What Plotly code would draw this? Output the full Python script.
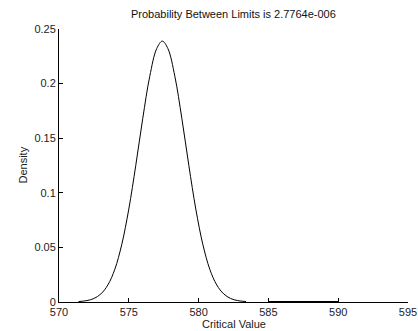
import plotly.graph_objects as go

# Curve points (density vs critical value)
x_vals = [571.4, 572.0, 572.5, 573.0, 573.5, 574.0, 574.5, 575.0, 575.5, 576.0, 576.5, 577.0,
          577.4, 577.8, 578.3, 578.8, 579.3, 579.8, 580.3, 580.8, 581.3, 581.8, 582.3, 582.8, 583.4]
density = [0.0004, 0.0013, 0.0032, 0.0074, 0.0156, 0.0300, 0.0529, 0.0851, 0.1251, 0.1681, 0.2066, 0.2321,
           0.2389, 0.2321, 0.2066, 0.1681, 0.1251, 0.0851, 0.0529, 0.0300, 0.0156, 0.0074, 0.0032, 0.0013, 0.0004]

limits_x = [585, 590]
limits_y = [0.0, 0.0]

x_ticks = [570, 575, 580, 585, 590, 595]
y_ticks = [0, 0.05, 0.1, 0.15, 0.2, 0.25]
y_tick_text = ["0", "0.05", "0.1", "0.15", "0.2", "0.25"]

title_text = "Probability Between Limits is 2.7764e-006"
x_title = "Critical Value"
y_title = "Density"

fig = go.Figure()
fig.add_trace(go.Scatter(x=x_vals, y=density, mode="lines", line=dict(color="black", width=1, shape="spline"),
                         showlegend=False, hoverinfo="skip"))
fig.add_trace(go.Scatter(x=limits_x, y=limits_y, mode="lines", line=dict(color="black", width=2.2),
                         showlegend=False, hoverinfo="skip"))

font = dict(family="Liberation Sans, Arial, sans-serif", size=11, color="#222222")

L, R, T, B = 59, 10, 29, 29
W, H = 418, 331
pw, ph = W - L - R, H - T - B

fig.update_layout(
    width=W, height=H,
    margin=dict(l=L, r=R, t=T, b=B, autoexpand=False),
    paper_bgcolor="white", plot_bgcolor="white",
    font=font,
    xaxis=dict(range=[570, 595], tickvals=x_ticks, ticks="inside", ticklen=4, tickcolor="black",
               showline=True, linecolor="black", linewidth=1, showgrid=False, zeroline=False,
               automargin=False, ticklabelstandoff=0),
    yaxis=dict(range=[0, 0.25], tickvals=y_ticks, ticktext=y_tick_text, ticks="inside", ticklen=4,
               tickcolor="black", showline=True, linecolor="black", linewidth=1, showgrid=False,
               zeroline=False, automargin=False),
    annotations=[
        dict(text=title_text, xref="paper", yref="paper", x=0.5, y=1 + (T - 14) / ph,
             xanchor="center", yanchor="middle", showarrow=False,
             font=dict(family="Liberation Sans, Arial, sans-serif", size=11, color="#111111")),
        dict(text=x_title, xref="paper", yref="paper", x=0.5, y=-(324 - (H - B)) / ph,
             xanchor="center", yanchor="middle", showarrow=False, font=font),
        dict(text=y_title, xref="paper", yref="paper", x=-(L - 22) / pw, y=0.5,
             xanchor="center", yanchor="middle", showarrow=False, textangle=-90, font=font),
    ],
)

fig.write_html("out.html")
